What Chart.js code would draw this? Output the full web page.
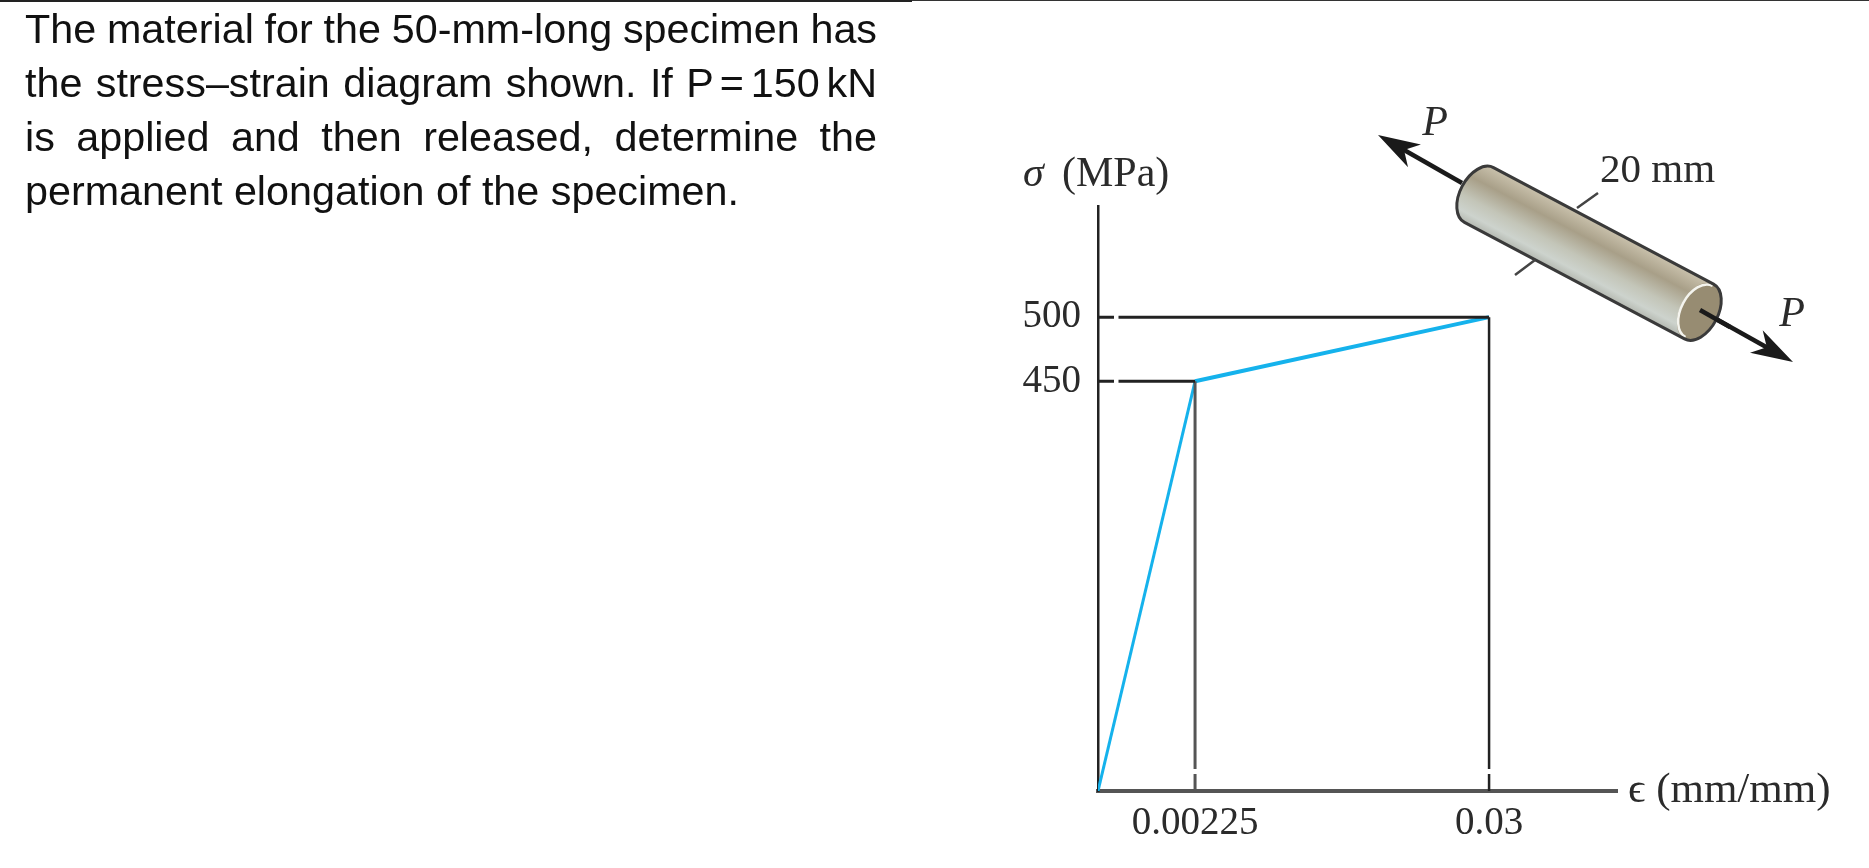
<!DOCTYPE html>
<html>
<head>
<meta charset="utf-8">
<title>Stress-strain diagram</title>
<script src="https://cdn.jsdelivr.net/npm/chart.js@4/dist/chart.umd.min.js"></script>
<style>
  html, body { margin: 0; padding: 0; background: #fff; width: 1869px; height: 868px; overflow: hidden; }
  #rule1 { position: absolute; left: 0; top: 0; width: 912px; height: 2px; background: #222; }
  #rule2 { position: absolute; left: 912px; top: 0; width: 957px; height: 1px; background: #333; }
  #question div {
    position: absolute; left: 25px; width: 852px; height: 54px; line-height: 54px;
    font-family: "Liberation Sans", Arial, sans-serif; font-size: 41.3px; color: #111;
    text-align: justify; text-align-last: justify; white-space: nowrap;
  }
  #question div.last { text-align-last: left; }
  #plot { position: absolute; left: 0; top: 0; filter: blur(0.7px); }
</style>
</head>
<body>
<canvas id="plot" width="1869" height="868"></canvas>
<div id="rule1"></div><div id="rule2"></div>
<div id="question">
  <div style="top:2px;word-spacing:-2.5px">The material for the 50-mm-long specimen has</div>
  <div style="top:56px;word-spacing:-0.5px">the stress–strain diagram shown. If <span style="word-spacing:-7px">P = 150 </span>kN</div>
  <div style="top:110px">is applied and then released, determine the</div>
  <div class="last" style="top:164px">permanent elongation of the specimen.</div>
</div>
<script>
// curve points
const strainValues = [0, 0.00225, 0.03];
const stressValues = [0, 450, 500];
// tick labels
const strainTicks = [0.00225, 0.03];
const stressTicks = [450, 500];

// the diagram is a sketch, not drawn to scale, so the axes are piecewise
class SketchScale extends Chart.LinearScale {
  static id = 'sketch';
  static defaults = Chart.LinearScale.defaults;
  getPixelForValue(value) {
    const { knots, stops } = this.options;
    let i = 1;
    while (i < knots.length - 1 && value > knots[i]) i++;
    const t = (value - knots[i - 1]) / (knots[i] - knots[i - 1]);
    return this.getPixelForDecimal(stops[i - 1] + t * (stops[i] - stops[i - 1]));
  }
}
Chart.register(SketchScale);

const inkColor = '#2b2b2b';
const serif = '"Liberation Serif", "Times New Roman", serif';

// specimen, arrows and free labels around the plot
const sketchPlugin = {
  id: 'sketch',
  afterDraw(chart) {
    const ctx = chart.ctx;
    drawArrow(ctx, 1462, 183, 1378, 135);
    drawArrow(ctx, 1700, 310, 1793, 362);
    drawSpecimen(ctx);
    // right arrow starts on the end face, so redraw its shaft on top
    ctx.strokeStyle = '#1a1a1a'; ctx.lineWidth = 4.5;
    ctx.beginPath(); ctx.moveTo(1700, 310); ctx.lineTo(1730, 327); ctx.stroke();
    // diameter marks
    ctx.strokeStyle = '#444'; ctx.lineWidth = 2.5;
    ctx.beginPath();
    ctx.moveTo(1598, 193); ctx.lineTo(1577, 208);
    ctx.moveTo(1535, 260); ctx.lineTo(1515, 275);
    ctx.stroke();

    ctx.fillStyle = inkColor;
    ctx.textBaseline = 'middle';
    ctx.textAlign = 'left';
    ctx.font = 'italic 42px ' + serif;
    ctx.fillText('σ', 1023, 175);
    ctx.font = '42px ' + serif;
    ctx.fillText('(MPa)', 1062, 175);
    ctx.font = '41px ' + serif;
    ctx.fillText('20 mm', 1600, 171);
    ctx.font = '43px ' + serif;
    ctx.fillText('ϵ (mm/mm)', 1628, 791);
    ctx.font = 'italic 42px ' + serif;
    ctx.textAlign = 'center';
    ctx.fillText('P', 1435, 124);
    ctx.fillText('P', 1792, 315);
  }
};

function drawArrow(ctx, x0, y0, x1, y1) {
  const a = Math.atan2(y1 - y0, x1 - x0);
  ctx.save();
  ctx.translate(x1, y1);
  ctx.rotate(a);
  ctx.strokeStyle = '#1a1a1a';
  ctx.fillStyle = '#1a1a1a';
  ctx.lineWidth = 4.5;
  ctx.beginPath();
  ctx.moveTo(-Math.hypot(x1 - x0, y1 - y0), 0);
  ctx.lineTo(-20, 0);
  ctx.stroke();
  ctx.beginPath();
  ctx.moveTo(0, 0);
  ctx.lineTo(-42, -13);
  ctx.lineTo(-30, 0);
  ctx.lineTo(-42, 13);
  ctx.closePath();
  ctx.fill();
  ctx.restore();
}

function drawSpecimen(ctx) {
  const len = 249, r = 31, capR = 19;
  ctx.save();
  ctx.translate(1479, 195);
  ctx.rotate(27.9 * Math.PI / 180);
  const grad = ctx.createLinearGradient(0, -r, 0, r);
  grad.addColorStop(0, '#c9c1ac');
  grad.addColorStop(0.3, '#a89f88');
  grad.addColorStop(0.62, '#c3c5b8');
  grad.addColorStop(0.85, '#cdd3cd');
  grad.addColorStop(1, '#b4b8b0');
  const outline = () => {
    ctx.beginPath();
    ctx.moveTo(0, -r);
    ctx.lineTo(len, -r);
    ctx.ellipse(len, 0, capR, r, 0, -Math.PI / 2, Math.PI / 2);
    ctx.lineTo(0, r);
    ctx.ellipse(0, 0, capR, r, 0, Math.PI / 2, Math.PI * 1.5);
    ctx.closePath();
  };
  outline();
  ctx.fillStyle = grad;
  ctx.fill();
  // end face
  ctx.beginPath();
  ctx.ellipse(len, 0, capR, r, 0, 0, Math.PI * 2);
  ctx.fillStyle = '#978c72';
  ctx.fill();
  ctx.beginPath();
  ctx.ellipse(len, 0, capR - 1, r - 2, 0, Math.PI / 2, Math.PI * 1.5);
  ctx.strokeStyle = '#f4f4ee';
  ctx.lineWidth = 2.5;
  ctx.stroke();
  outline();
  ctx.strokeStyle = '#3a3a3a';
  ctx.lineWidth = 3;
  ctx.stroke();
  ctx.restore();
}

new Chart(document.getElementById('plot'), {
  type: 'line',
  data: {
    datasets: [
      {
        // guide at 500, running out from the stress axis
        data: [{ x: 0, y: stressValues[2] }, { x: strainValues[2], y: stressValues[2] }],
        borderColor: '#222', borderWidth: 3, borderDash: [16, 4.5, 2000], pointRadius: 0
      },
      {
        // guide at 450
        data: [{ x: 0, y: stressValues[1] }, { x: strainValues[1], y: stressValues[1] }],
        borderColor: '#222', borderWidth: 3, borderDash: [16, 4.5, 2000], pointRadius: 0
      },
      {
        // guide at 0.00225, running up from the strain axis
        data: [{ x: strainValues[1], y: 0 }, { x: strainValues[1], y: stressValues[1] }],
        borderColor: '#555', borderWidth: 3, borderDash: [17, 5, 2000], pointRadius: 0
      },
      {
        // guide at 0.03
        data: [{ x: strainValues[2], y: 0 }, { x: strainValues[2], y: stressValues[2] }],
        borderColor: '#222', borderWidth: 2.5, borderDash: [17, 5, 2000], pointRadius: 0
      },
      {
        label: 'Stress-strain',
        data: strainValues.map((x, i) => ({ x, y: stressValues[i] })),
        borderColor: '#15b2ec',
        borderWidth: 4,
        segment: { borderWidth: c => (c.p0DataIndex === 0 ? 3 : 4) },
        pointRadius: 0,
        tension: 0
      }
    ]
  },
  options: {
    responsive: false,
    animation: false,
    events: [],
    layout: { padding: { top: 206, right: 252, left: 0, bottom: 0 } },
    plugins: { legend: { display: false }, tooltip: { enabled: false }, title: { display: false } },
    scales: {
      x: {
        type: 'sketch',
        min: 0,
        max: 0.04,
        knots: [0, 0.00225, 0.03, 0.04],
        stops: [0, 0.187, 0.7535, 1],
        grid: { display: false },
        border: { color: '#555', width: 4 },
        afterFit: s => { s.height = 77; },
        afterBuildTicks: s => { s.ticks = strainTicks.map(value => ({ value })); },
        ticks: {
          autoSkip: false, maxRotation: 0, padding: 1, color: inkColor,
          font: { family: serif, size: 39 },
          callback: v => String(v)
        }
      },
      y: {
        type: 'sketch',
        min: 0,
        max: 600,
        knots: [0, 450, 500, 600],
        stops: [0, 0.7003, 0.81, 1],
        grid: { display: false },
        border: { color: '#222', width: 2.5 },
        afterFit: s => { s.width = 1098; },
        afterBuildTicks: s => { s.ticks = stressTicks.map(value => ({ value })); },
        ticks: {
          autoSkip: false, padding: 9, color: inkColor,
          font: { family: serif, size: 39 },
          callback: v => String(v)
        }
      }
    }
  },
  plugins: [sketchPlugin]
});
</script>
</body>
</html>
